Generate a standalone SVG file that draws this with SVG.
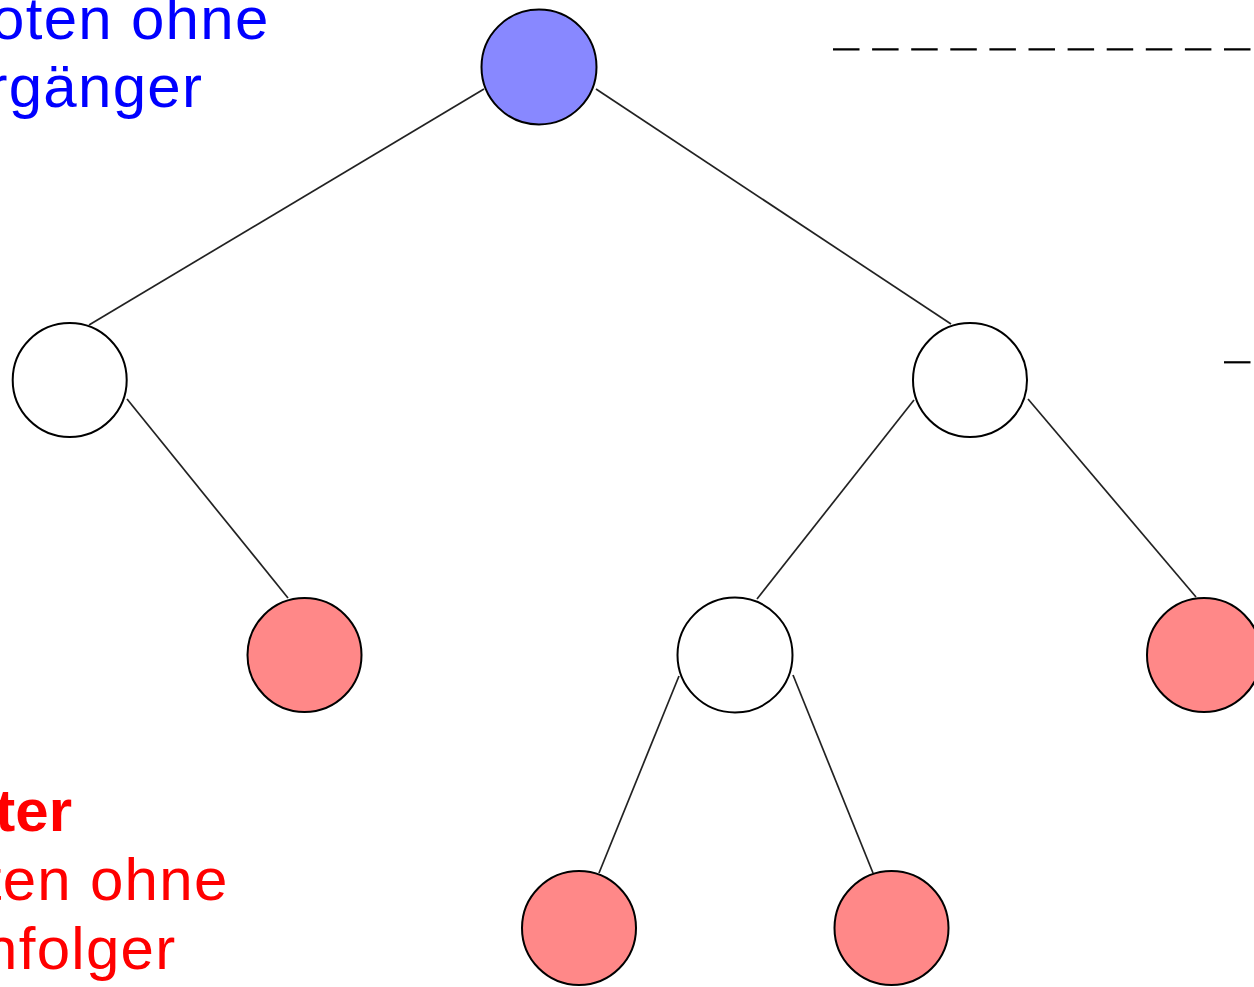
<svg xmlns="http://www.w3.org/2000/svg" width="1254" height="987" viewBox="0 0 1254 987">
<style>
.node{stroke:#000;stroke-width:2}
.root{fill:#8888ff}
.leaf{fill:#ff8888}
.inner{fill:#fff}
.edge{stroke:#222;stroke-width:1.7;fill:none}
.dash{stroke:#000;stroke-width:2.2;stroke-dasharray:26.5 12.6;fill:none}
.lbl{font-family:"Liberation Sans",Arial,sans-serif;font-size:60px}
.sp{letter-spacing:1.3px}
</style>
<rect width="1254" height="987" fill="#fff"/>
<g id="connectors">
<line class="edge" x1="484" y1="89" x2="89" y2="325"/>
<line class="edge" x1="596" y1="89" x2="951" y2="324"/>
<line class="edge" x1="127" y1="399" x2="288" y2="598"/>
<line class="edge" x1="914" y1="400" x2="757" y2="599"/>
<line class="edge" x1="1028" y1="399" x2="1196" y2="597"/>
<line class="edge" x1="679" y1="676" x2="599" y2="873"/>
<line class="edge" x1="793" y1="675" x2="873" y2="873"/>
</g>
<g id="levels">
<line class="dash" x1="833" y1="49.3" x2="1260" y2="49.3"/>
<line class="dash" x1="1224" y1="362.3" x2="1260" y2="362.3"/>
</g>
<g id="root"><circle class="node root" cx="539" cy="67" r="57.5"/></g>
<g id="n1"><circle class="node inner" cx="69.7" cy="380" r="57"/></g>
<g id="n2"><circle class="node inner" cx="970" cy="380" r="57"/></g>
<g id="n3"><circle class="node leaf" cx="304.5" cy="655" r="57"/></g>
<g id="n4"><circle class="node inner" cx="735" cy="655" r="57.5"/></g>
<g id="n5"><circle class="node leaf" cx="1204" cy="655" r="57"/></g>
<g id="n6"><circle class="node leaf" cx="579" cy="928" r="57"/></g>
<g id="n7"><circle class="node leaf" cx="891.5" cy="928" r="57"/></g>
<g id="label-root">
<text class="lbl sp" fill="#0000ff" x="-85" y="39">Knoten ohne</text>
<text class="lbl sp" fill="#0000ff" x="-85.3" y="107">Vorgänger</text>
</g>
<g id="label-leaves">
<text class="lbl" fill="#ff0000" x="-118" y="831" font-weight="bold">Blätter</text>
<text class="lbl sp" fill="#ff0000" x="-126" y="900">Knoten ohne</text>
<text class="lbl sp" fill="#ff0000" x="-126.6" y="969">Nachfolger</text>
</g>
</svg>
